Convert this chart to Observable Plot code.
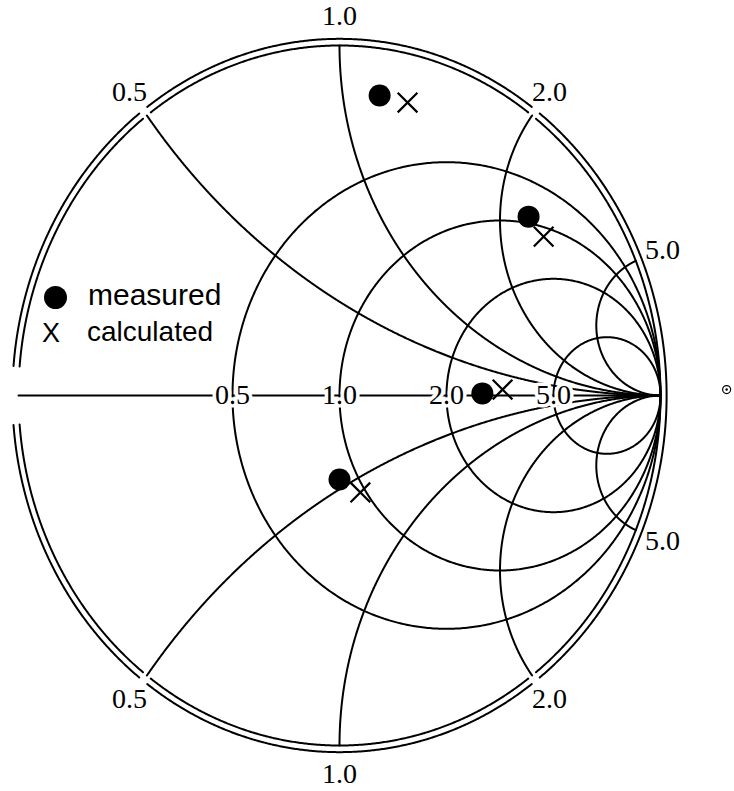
<!DOCTYPE html>
<html><head><meta charset="utf-8">
<script src="https://cdn.jsdelivr.net/npm/d3@7"></script>
<script src="https://cdn.jsdelivr.net/npm/@observablehq/plot@0.6"></script>
<style>
body{margin:0;background:#fff;}
#wrap{position:relative;width:734px;height:791px;overflow:hidden;}
#wrap svg{position:absolute;left:0;top:0;}
.lg{position:absolute;font-family:"Liberation Sans",Arial,sans-serif;color:#000;line-height:1;white-space:nowrap;}
</style></head><body><div id="wrap"></div>
<script>
// Smith chart grid values
const resistances = [0.5, 1.0, 2.0, 5.0];
const resistanceLabels = ["0.5", "1.0", "2.0", "5.0"];
const reactances = [0.5, 1.0, 2.0, 5.0, -0.5, -1.0, -2.0, -5.0];
const reactanceLabels = ["0.5", "1.0", "2.0", "5.0", "0.5", "1.0", "2.0", "5.0"];
const measuredRe = [0.125, 0.589, 0.445, 0.000];
const measuredIm = [0.857, 0.511, 0.006, -0.240];
const calculatedRe = [0.212, 0.636, 0.508, 0.065];
const calculatedIm = [0.837, 0.454, 0.017, -0.277];
const legendLabels = ["measured", "calculated"];
// stray ring mark at the right edge
const strayRe = [1.206];
const strayIm = [0.017];

const PX = 321, PY = 350; // px per unit (for label offsets)
const grid = [];
let id = 0;
// resistance circles
for (const r of resistances) {
  const c = r / (1 + r), rho = 1 / (1 + r);
  id++;
  for (let k = 0; k <= 720; k++) {
    const t = k / 720 * 2 * Math.PI;
    grid.push({gx: c + rho * Math.cos(t), gy: rho * Math.sin(t), id});
  }
}
// reactance arcs
for (const x of reactances) {
  id++;
  for (let k = 0; k <= 800; k++) {
    const phi = k / 800 * Math.PI / 2;
    if (k === 800) { grid.push({gx: 1, gy: 0, id}); break; }
    const s = Math.tan(phi);
    const d = (s + 1) * (s + 1) + x * x;
    grid.push({gx: (s * s - 1 + x * x) / d, gy: 2 * x / d, id});
  }
}
// real axis
id++;
grid.push({gx: -1, gy: 0, id}, {gx: 1, gy: 0, id});

// outer double boundary with gaps
const endAngle = x => Math.atan2(2 * x, x * x - 1);
const gaps = [[Math.PI, 0.08], [-Math.PI, 0.08]];
for (const x of [0.5, -0.5, 2, -2]) gaps.push([endAngle(x), 0.014]);
const inGap = t => gaps.some(([a, w]) => Math.abs(t - a) < w);
const boundary = [];
for (const R of [1, 1.019]) {
  let seg = ++id, prev = false;
  for (let k = 0; k <= 1440; k++) {
    const t = -Math.PI + k / 1440 * 2 * Math.PI;
    if (inGap(t)) { prev = true; continue; }
    if (prev) { seg = ++id; prev = false; }
    boundary.push({gx: R * Math.cos(t), gy: R * Math.sin(t), id: seg});
  }
}

const axisLabels = resistances.map((r, i) => ({gx: (r - 1) / (r + 1), gy: 0, text: resistanceLabels[i]}));
const off = 29;
const rimLabels = reactances.map((x, i) => {
  const a = endAngle(x);
  return {gx: Math.cos(a) * (1 + off / PX), gy: Math.sin(a) * (1 + off / PY), text: reactanceLabels[i]};
});
const measured = measuredRe.map((v, i) => ({gx: v, gy: measuredIm[i]}));
const calculated = calculatedRe.map((v, i) => ({gx: v, gy: calculatedIm[i]}));
const stray = strayRe.map((v, i) => ({gx: v, gy: strayIm[i]}));

const chart = Plot.plot({
  width: 734, height: 791, margin: 0,
  style: {background: "white", overflow: "visible"},
  x: {type: "linear", domain: [-1, 1], range: [18, 660], axis: null},
  y: {type: "linear", domain: [-1, 1], range: [745, 45], axis: null},
  marks: [
    Plot.line(grid, {x: "gx", y: "gy", z: "id", stroke: "black", strokeWidth: 2}),
    Plot.line(boundary, {x: "gx", y: "gy", z: "id", stroke: "black", strokeWidth: 2}),
    Plot.text(axisLabels, {x: "gx", y: "gy", text: "text", fontFamily: "Liberation Serif", fontSize: "28px",
      fill: "black", stroke: "white", strokeWidth: 7, paintOrder: "stroke"}),
    Plot.text(rimLabels, {x: "gx", y: "gy", text: "text", fontFamily: "Liberation Serif", fontSize: "28px",
      fill: "black", stroke: "white", strokeWidth: 5, paintOrder: "stroke"}),
    Plot.dot(measured, {x: "gx", y: "gy", r: 11, fill: "black"}),
    Plot.dot(calculated, {x: "gx", y: "gy", r: 9, symbol: "times", stroke: "black", strokeWidth: 2.2}),
    Plot.dot(stray, {x: "gx", y: "gy", r: 4, stroke: "black", strokeWidth: 1.2, fill: "none"}),
    Plot.dot(stray, {x: "gx", y: "gy", r: 1.2, fill: "black"})
  ]
});
const wrap = document.getElementById("wrap");
wrap.appendChild(chart);

// legend overlay
const dot = document.createElement("div");
dot.style.cssText = "position:absolute;left:44px;top:286px;width:23px;height:23px;border-radius:50%;background:#000;";
wrap.appendChild(dot);
const xm = document.createElement("div");
xm.className = "lg"; xm.textContent = "X";
xm.style.cssText += "left:42px;top:320px;font-size:27px;";
wrap.appendChild(xm);
const t1 = document.createElement("div");
t1.className = "lg"; t1.textContent = legendLabels[0];
t1.style.cssText += "left:88px;top:280px;font-size:30px;";
wrap.appendChild(t1);
const t2 = document.createElement("div");
t2.className = "lg"; t2.textContent = legendLabels[1];
t2.style.cssText += "left:87px;top:318px;font-size:28px;";
wrap.appendChild(t2);
</script></body></html>
